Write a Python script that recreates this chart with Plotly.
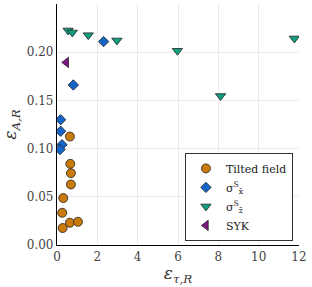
import plotly.graph_objects as go

tilted_x = [0.64, 0.66, 0.69, 0.69, 0.31, 0.26, 0.28, 0.64, 1.04]
tilted_y = [0.1125, 0.0842, 0.0745, 0.0628, 0.0487, 0.0334, 0.0176, 0.0231, 0.0241]

sx_x = [0.18, 0.18, 0.25, 0.15, 0.81, 2.31]
sx_y = [0.130, 0.118, 0.104, 0.099, 0.166, 0.211]

sz_x = [0.55, 0.76, 1.55, 2.97, 5.97, 8.11, 11.77]
sz_y = [0.2226, 0.2205, 0.2177, 0.2122, 0.2015, 0.1546, 0.2143]

syk_x = [0.46]
syk_y = [0.1894]

x_ticks = [0, 2, 4, 6, 8, 10, 12]
y_ticks = [0.00, 0.05, 0.10, 0.15, 0.20]

FONT = "DejaVu Serif"
line = dict(color="#222222", width=0.8)

fig = go.Figure()
fig.add_trace(go.Scatter(x=tilted_x, y=tilted_y, mode="markers", name="Tilted field",
                         marker=dict(symbol="circle", size=9, color="#C97A0A", line=line)))
fig.add_trace(go.Scatter(x=sx_x, y=sx_y, mode="markers", name="σ<sup>S</sup><sub>x̃</sub>",
                         marker=dict(symbol="diamond", size=8, color="#1565C8", line=line)))
fig.add_trace(go.Scatter(x=sz_x, y=sz_y, mode="markers", name="σ<sup>S</sup><sub>z̃</sub>",
                         marker=dict(symbol="triangle-down", size=9, color="#0FA07F", line=line)))
fig.add_trace(go.Scatter(x=syk_x, y=syk_y, mode="markers", name="SYK",
                         marker=dict(symbol="triangle-left", size=9, color="#7C1880", line=line)))

fig.update_layout(
    width=312, height=287,
    margin=dict(l=57, r=13, t=4, b=42),
    plot_bgcolor="white", paper_bgcolor="white",
    font=dict(family=FONT, size=12, color="#333333"),
    showlegend=True,
    legend=dict(x=0.975, y=0.017, xanchor="right", yanchor="bottom",
                bgcolor="white", bordercolor="#333333", borderwidth=1,
                font=dict(family=FONT, size=11, color="#222222"),
                tracegroupgap=0, itemwidth=30),
    xaxis=dict(range=[0, 12], tickvals=x_ticks, ticktext=[str(v) for v in x_ticks],
               showgrid=True, gridcolor="#EBEBEB", gridwidth=1,
               showline=True, linecolor="black", linewidth=1.2, zeroline=False,
               ticks="", tickfont=dict(family=FONT, size=12, color="#444444"),
               title=dict(text="<i>ε</i><sub><i>τ,R</i></sub>", font=dict(family=FONT, size=17, color="#333333"), standoff=4)),
    yaxis=dict(range=[0, 0.25], tickvals=y_ticks, ticktext=["%.2f" % v for v in y_ticks],
               showgrid=True, gridcolor="#EBEBEB", gridwidth=1,
               showline=True, linecolor="black", linewidth=1.2, zeroline=False,
               ticks="", tickfont=dict(family=FONT, size=12, color="#444444"),
               title=dict(text="<i>ε</i><sub><i>A,R</i></sub>", font=dict(family=FONT, size=17, color="#333333"), standoff=6)),
)

fig.write_html("out.html", config={"displayModeBar": False},
               post_script="document.body.style.margin='0';")
